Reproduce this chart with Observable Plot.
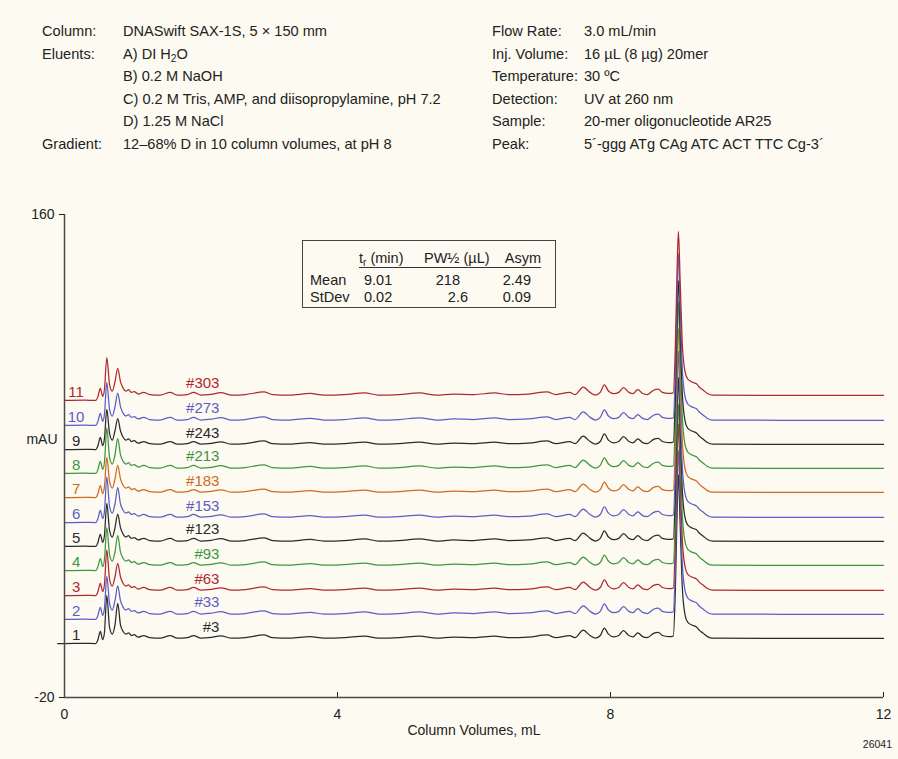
<!DOCTYPE html>
<html>
<head>
<meta charset="utf-8">
<script src="https://cdn.jsdelivr.net/npm/d3@7"></script>
<script src="https://cdn.jsdelivr.net/npm/@observablehq/plot@0.6"></script>
<style>
  html, body { margin: 0; padding: 0; background: #fcfaf1; }
  #page { position: relative; width: 898px; height: 759px; background: #fcfaf1; font-family: "Liberation Sans", Arial, sans-serif; color: #222; overflow: hidden; }
  #header { position: relative; height: 190px; font-size: 14.6px; }
  #header span { position: absolute; white-space: nowrap; line-height: 18px; }
  #chart { position: relative; }
  #table { position: absolute; left: 302px; top: 240px; width: 252px; height: 66px; border: 1.5px solid #444; font-size: 14.5px; background: #fcfaf1; }
  #table span { position: absolute; white-space: nowrap; line-height: 16px; }
  #table .rule { position: absolute; left: 56px; width: 182px; top: 26px; height: 0; border-top: 1.2px solid #333; }
  #code { position: absolute; right: 6px; top: 738px; font-size: 10.5px; }
  sub { font-size: 70%; vertical-align: -3px; line-height: 0; }
</style>
</head>
<body>
<div id="page">
  <div id="header"></div>
  <div id="chart"></div>
  <div id="table">
    <span style="left:56px; top:9px">t<sub>r</sub> (min)</span>
    <span style="left:121px; top:9px">PW½ (µL)</span>
    <span style="right:14px; top:9px">Asym</span>
    <div class="rule"></div>
    <span style="left:7px; top:31px">Mean</span>
    <span style="left:61px; top:31px">9.01</span>
    <span style="right:95px; top:31px">218</span>
    <span style="right:24px; top:31px">2.49</span>
    <span style="left:7px; top:48px">StDev</span>
    <span style="left:61px; top:48px">0.02</span>
    <span style="right:87px; top:48px">2.6</span>
    <span style="right:24px; top:48px">0.09</span>
  </div>
  <div id="code">26041</div>
</div>
<script>
// ---- Header text ----
const leftLabels = ["Column:", "Eluents:", "", "", "", "Gradient:"];
const leftValues = ["DNASwift SAX-1S, 5 × 150 mm", "A) DI H<sub>2</sub>O", "B) 0.2 M NaOH",
  "C) 0.2 M Tris, AMP, and diisopropylamine, pH 7.2", "D) 1.25 M NaCl", "12–68% D in 10 column volumes, at pH 8"];
const rightLabels = ["Flow Rate:", "Inj. Volume:", "Temperature:", "Detection:", "Sample:", "Peak:"];
const rightValues = ["3.0 mL/min", "16 µL (8 µg) 20mer", "30 ºC", "UV at 260 nm",
  "20-mer oligonucleotide AR25", "5´-ggg ATg CAg ATC ACT TTC Cg-3´"];

// ---- Chart data ----
const runs = ["#3", "#33", "#63", "#93", "#123", "#153", "#183", "#213", "#243", "#273", "#303"];
const traceNumbers = ["1", "2", "3", "4", "5", "6", "7", "8", "9", "10", "11"];
const baselines = [0.1, 9.1, 18.0, 27.3, 36.3, 45.2, 54.5, 63.5, 72.4, 81.4, 90.7];
const earlyPeakA = [18, 16, 17, 16, 16, 17, 15, 17, 15, 16, 16];   // at 0.62 mL
const earlyPeakB = [15, 12.5, 12, 13, 12, 13, 12, 13, 11.5, 12, 12]; // at 0.78 mL
const mainPeak = [63, 63, 64, 62, 63, 64, 63, 64, 63, 64, 63];     // at 8.995 mL
const peakAX = 0.62, peakBX = 0.78, mainX = 8.995;
// shared chromatogram shape, relative to each run's baseline
const profileX = [0.00, 0.30, 0.46, 0.49, 0.525, 0.56, 0.585, 0.62, 0.66, 0.70, 0.74, 0.78, 0.82, 0.86, 0.90, 0.94, 0.98,
  1.02, 1.08, 1.16, 1.25, 1.40, 1.55, 1.65, 1.80, 1.89, 2.00, 2.15, 2.29, 2.45, 2.65, 2.92, 3.05, 3.30, 3.60, 3.80,
  4.10, 4.40, 4.60, 4.90, 5.20, 5.45, 5.70, 6.00, 6.30, 6.50, 6.80, 7.07, 7.20, 7.40, 7.48, 7.60, 7.70, 7.78, 7.85,
  7.91, 7.97, 8.05, 8.12, 8.19, 8.27, 8.33, 8.40, 8.47, 8.54, 8.63, 8.70, 8.76, 8.85, 8.92, 8.95, 8.975, 8.995,
  9.02, 9.05, 9.09, 9.13, 9.20, 9.26, 9.30, 9.36, 9.42, 9.50, 10.5, 12.0];
const profileY = [0, 0.1, 0, 1.5, 4.5, 1.5, 4, 16, 6, 3.5, 7, 13, 7, 4.5, 3.5, 4.0, 3.0,
  3.3, 2.4, 3.0, 2.2, 2.0, 3.0, 2.0, 2.2, 3.0, 2.0, 2.3, 2.9, 2.0, 2.2, 3.2, 2.2, 2.0, 2.6, 2.0,
  2.2, 2.8, 2.0, 2.2, 2.8, 2.0, 2.4, 2.2, 2.8, 2.2, 2.4, 3.2, 2.2, 3.0, 2.2, 5.0, 3.0, 2.0, 3.0,
  5.8, 3.5, 2.5, 3.0, 4.8, 3.0, 2.5, 4.0, 2.6, 2.2, 3.8, 4.2, 3.0, 2.6, 2.8, 20, 48, 63,
  45, 22, 11, 8, 6.8, 6.2, 5.0, 3.8, 2.6, 2.0, 1.9, 1.9];
const firstRunLeadX = -0.1; // run #3 trace begins slightly left of the axis

const xTicks = [0, 4, 8, 12];
const yTicks = [-20, 160];
const xLabel = "Column Volumes, mL";
const yLabel = "mAU";

// header rendering
const header = document.getElementById("header");
const rowY = [22, 45, 67, 90, 112, 135];
leftLabels.forEach((t, i) => { if (t) header.insertAdjacentHTML("beforeend", `<span style="left:42px; top:${rowY[i]}px">${t}</span>`); });
leftValues.forEach((t, i) => header.insertAdjacentHTML("beforeend", `<span style="left:123px; top:${rowY[i]}px">${t}</span>`));
rightLabels.forEach((t, i) => header.insertAdjacentHTML("beforeend", `<span style="left:492px; top:${rowY[i]}px">${t}</span>`));
rightValues.forEach((t, i) => header.insertAdjacentHTML("beforeend", `<span style="left:584px; top:${rowY[i]}px">${t}</span>`));

// build rows
const rows = [];
runs.forEach((run, i) => {
  if (i === 0) rows.push({run, x: firstRunLeadX, y: baselines[i] + profileY[0]});
  profileX.forEach((x, j) => {
    let v = profileY[j];
    if (x === peakAX) v = earlyPeakA[i];
    else if (x === peakBX) v = earlyPeakB[i];
    else if (x === mainX) v = mainPeak[i];
    rows.push({run, x, y: baselines[i] + v});
  });
});
const numberLabels = runs.map((run, i) => ({run, label: traceNumbers[i], y: baselines[i]}));
const runLabels = runs.map((run, i) => ({run, label: run, y: baselines[i] + profileY[profileX.indexOf(2.29)]}));

const colorRange = ["#2b2b2b", "#5a5ec6", "#b0282e", "#3f963f", "#2b2b2b", "#5a5ec6", "#cf6a24", "#3f963f", "#2b2b2b", "#5a5ec6", "#b0282e"];

const chart = Plot.plot({
  width: 898,
  height: 569,
  marginLeft: 64,
  marginRight: 15,
  marginTop: 24,
  marginBottom: 62,
  style: {background: "transparent", fontFamily: "'Liberation Sans', Arial, sans-serif", fontSize: "14px", color: "#222", overflow: "visible"},
  x: {domain: [0, 12]},
  y: {domain: [-20, 160]},
  color: {domain: runs, range: colorRange},
  marks: [
    Plot.axisY({ticks: yTicks, tickSize: 5, tickPadding: 5, tickFormat: d => String(d), label: null, fontSize: 14}),
    Plot.axisX({ticks: xTicks, tickSize: -5, tickPadding: 17, tickFormat: d => String(d), label: xLabel, labelAnchor: "center", labelArrow: "none", labelOffset: 37, fontSize: 14}),
    Plot.text([yLabel], {frameAnchor: "left", textAnchor: "end", dx: -7, dy: -16, fontSize: 14}),
    Plot.line(rows, {x: "x", y: "y", z: "run", stroke: "run", strokeWidth: 1.25, curve: "monotone-x"}),
    Plot.text(numberLabels, {x: 0.17, y: "y", text: "label", fill: "run", dy: -8, fontSize: 15}),
    Plot.text(runLabels, {x: 2.27, y: "y", text: "label", fill: "run", textAnchor: "end", dy: -9, fontSize: 15}),
    Plot.ruleX([0], {stroke: "#4a4a4a", strokeWidth: 1.5}),
    Plot.ruleY([-20], {stroke: "#4a4a4a", strokeWidth: 1.5})
  ]
});
document.getElementById("chart").appendChild(chart);
</script>
</body>
</html>
